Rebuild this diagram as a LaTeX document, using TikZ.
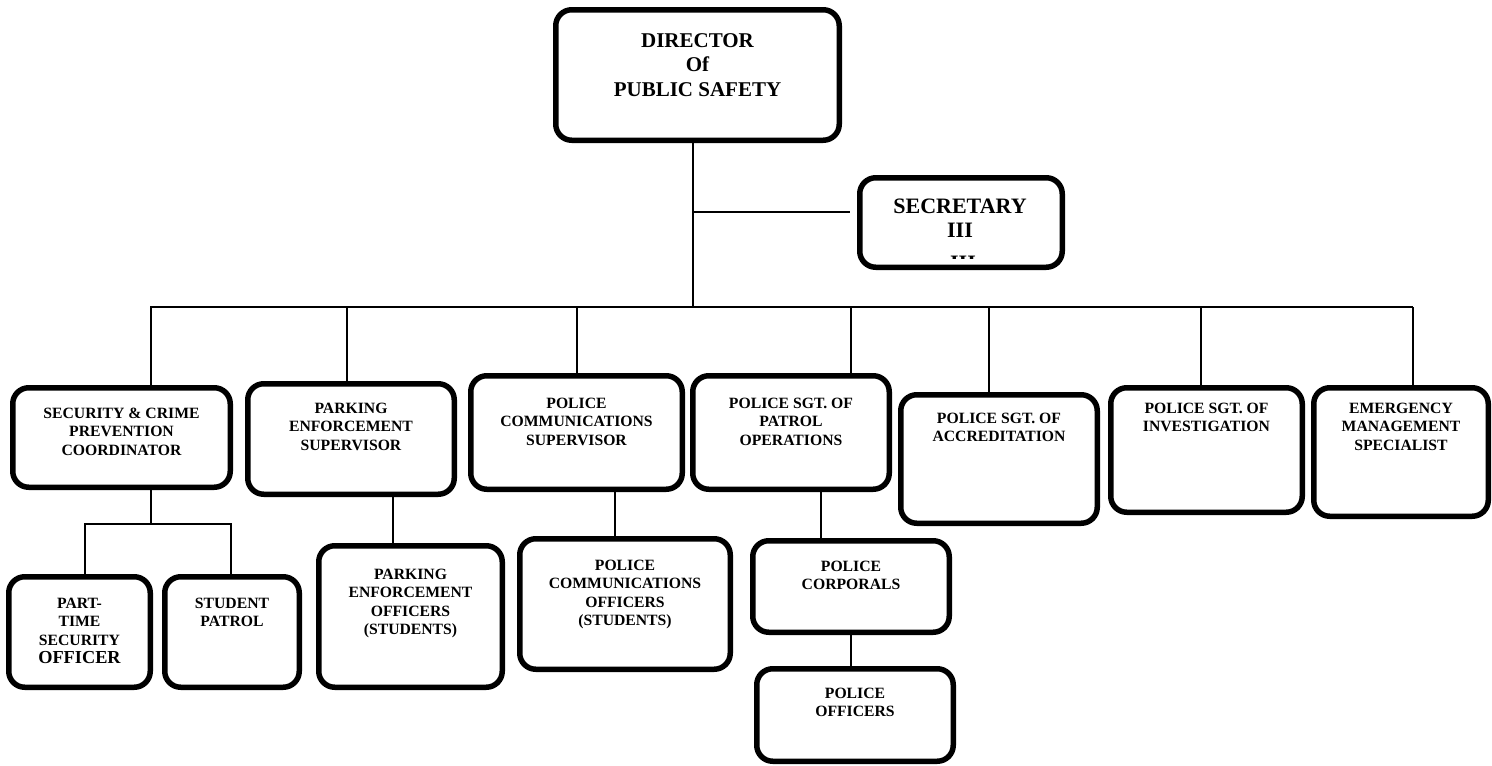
\documentclass[tikz,border=0pt]{standalone}
\usepackage{fontspec}
\setmainfont{Liberation Serif}
\usetikzlibrary{positioning}

\begin{document}
\begin{tikzpicture}
    [x=1pt, y=-1pt,
    unit/.style={draw=black, line width=5.5pt, rounded corners=16pt, inner sep=0pt},
    txt/.style={align=center, inner sep=0pt, font=\bfseries\fontsize{15.7}{18.3}\selectfont},
    bigtxt/.style={align=center, inner sep=0pt, font=\bfseries\fontsize{21}{24.5}\selectfont},
    link/.style={line width=1.8pt}]

    \useasboundingbox[fill=white] (0,0) rectangle (1492,766);

    % top of the chart
    \node[unit, minimum width=283.5pt, minimum height=130.5pt] (dir) at (697.5,75) {};
    \node[bigtxt, below=26pt of dir.north] (dir-t) {DIRECTOR\\Of\\PUBLIC SAFETY};
    \node[unit, minimum width=202.5pt, minimum height=89.5pt] (secy) at (961,222.5) {};
    \node[bigtxt, below=24pt of secy.north, xshift=-1pt, font=\bfseries\fontsize{22}{24}\selectfont] (secy-t) {SECRETARY\\III};
    % cut-off line under III
    \begin{scope}
      \clip (935,254.5) rectangle (990,258);
      \node[bigtxt, below=18pt of secy-t.south, xshift=3pt, font=\bfseries\fontsize{22}{24}\selectfont] (secy-x) {III};
    \end{scope}

    % second row
    \node[unit, minimum width=217.5pt, minimum height=99.5pt] (scpc) at (121.5,437.5) {};
    \node[txt, below=23pt of scpc.north] (scpc-t) {SECURITY \& CRIME\\PREVENTION\\COORDINATOR};
    \node[unit, minimum width=206.5pt, minimum height=110.5pt] (pes) at (351,439) {};
    \node[txt, below=22pt of pes.north] (pes-t) {PARKING\\ENFORCEMENT\\SUPERVISOR};
    \node[unit, minimum width=211.5pt, minimum height=113.5pt] (pcs) at (576.5,432.5) {};
    \node[txt, below=25pt of pcs.north] (pcs-t) {POLICE\\COMMUNICATIONS\\SUPERVISOR};
    \node[unit, minimum width=196.5pt, minimum height=113.5pt] (spo) at (791,432.5) {};
    \node[txt, below=25pt of spo.north] (spo-t) {POLICE SGT. OF\\PATROL\\OPERATIONS};
    \node[unit, minimum width=196.5pt, minimum height=128.5pt] (sacc) at (999,459) {};
    \node[txt, below=21pt of sacc.north] (sacc-t) {POLICE SGT. OF\\ACCREDITATION};
    \node[unit, minimum width=191.5pt, minimum height=124.5pt] (sinv) at (1206.5,450) {};
    \node[txt, below=18pt of sinv.north] (sinv-t) {POLICE SGT. OF\\INVESTIGATION};
    \node[unit, minimum width=174.5pt, minimum height=128.5pt] (ems) at (1401,452) {};
    \node[txt, below=18pt of ems.north] (ems-t) {EMERGENCY\\MANAGEMENT\\SPECIALIST};

    % third row
    \node[unit, minimum width=141.5pt, minimum height=110.5pt] (pto) at (79.5,632) {};
    \node[txt, below=24pt of pto.north] (pto-t) {PART-\\TIME\\SECURITY\\{\fontsize{18.3}{20}\selectfont OFFICER}};
    \node[unit, minimum width=134.5pt, minimum height=110.5pt] (stp) at (232,632) {};
    \node[txt, below=24pt of stp.north] (stp-t) {STUDENT\\PATROL};
    \node[unit, minimum width=183.5pt, minimum height=141.5pt] (peo) at (410.5,616.5) {};
    \node[txt, below=26pt of peo.north] (peo-t) {PARKING\\ENFORCEMENT\\OFFICERS\\(STUDENTS)};
    \node[unit, minimum width=210.5pt, minimum height=130.5pt] (pco) at (625,604) {};
    \node[txt, below=24pt of pco.north] (pco-t) {POLICE\\COMMUNICATIONS\\OFFICERS\\(STUDENTS)};
    \node[unit, minimum width=196.5pt, minimum height=91.5pt] (cpl) at (851,586.5) {};
    \node[txt, below=23pt of cpl.north] (cpl-t) {POLICE\\CORPORALS};
    \node[unit, minimum width=196.5pt, minimum height=92.5pt] (off) at (855,715) {};
    \node[txt, below=22pt of off.north] (off-t) {POLICE\\OFFICERS};

    % the lines
    \coordinate (trunk) at (693,307);
    \coordinate (sj) at (693,212);
    \coordinate (busl) at (150,307);
    \coordinate (busr) at (1413,307);
    \draw[link] (dir.south -| trunk) -- (trunk);
    \draw[link] (sj) -- ([xshift=-7pt]sj -| secy.west);
    \draw[link] (busl) -- (busr);
    \foreach \px/\unitname in {151/scpc, 347/pes, 577/pcs, 851/spo, 989/sacc, 1201/sinv, 1413/ems}
      \draw[link] (\px,307) -- (\unitname.north -| \px,0);

    \coordinate (fork) at (151,524);
    \draw[link] (scpc.south -| fork) -- (fork);
    \draw[link] (pto.north -| 85,0) |- (fork) -| (stp.north -| 231,0);
    \draw[link] (pes.south -| 393,0) -- (peo.north -| 393,0);
    \draw[link] (pcs.south -| 615,0) -- (pco.north -| 615,0);
    \draw[link] (spo.south -| 821,0) -- (cpl.north -| 821,0);
    \draw[link] (cpl.south -| 851,0) -- (off.north -| 851,0);

\end{tikzpicture}
\end{document}
